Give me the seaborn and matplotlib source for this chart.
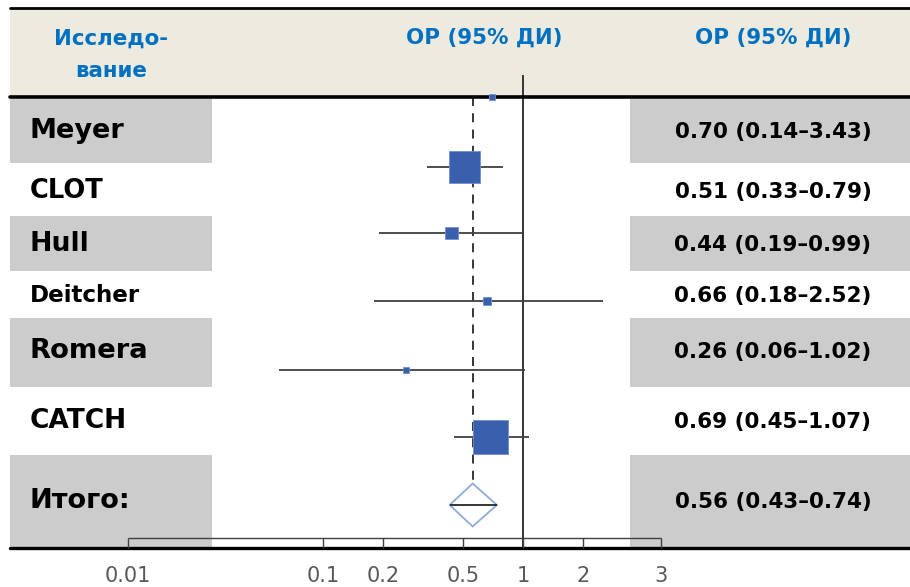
import numpy as np
import pandas as pd
import matplotlib
matplotlib.use("Agg")
import matplotlib.pyplot as plt
import matplotlib.transforms as mtransforms
from matplotlib.patches import Rectangle, Polygon
import seaborn as sns

# ---------------- data ----------------
studies = ["Meyer", "CLOT", "Hull", "Deitcher", "Romera", "CATCH"]
odds_ratio = [0.70, 0.51, 0.44, 0.66, 0.26, 0.69]
ci_low = [0.14, 0.33, 0.19, 0.18, 0.06, 0.45]
ci_high = [3.43, 0.79, 0.99, 2.52, 1.02, 1.07]
weights = [1.4, 40.1, 6.6, 2.5, 1.4, 48.0]

total_label = "Итого:"
total_or = 0.56
total_low = 0.43
total_high = 0.74

header_study = "Исследо-\nвание"
header_plot = "ОР (95% ДИ)"
header_values = "ОР (95% ДИ)"

tick_values = [0.0106, 0.1, 0.2, 0.5, 1, 2, 4.9]
tick_labels = ["0.01", "0.1", "0.2", "0.5", "1", "2", "3"]

# ---------------- layout (pixels) ----------------
W, H = 910, 587
marker_rows = [97, 167, 233, 301, 370, 437]
total_row = 505
text_baselines = [138, 198, 251, 302, 358, 428]
total_baseline = 508
label_sizes = [19.5, 18.5, 19.3, 16.6, 19.7, 19]
bands = [(99, 163), (216, 271), (318, 387), (455, 548)]

sns.set_theme(style="white")
plt.rcParams["font.family"] = ["DejaVu Sans"]

fig = plt.figure(figsize=(W / 100, H / 100), dpi=100)
ax = fig.add_axes([0, 0, 1, 1])
ax.set_xscale("log")
px_per_decade = 200.0
x_one = 523.0
ax.set_xlim(10 ** ((0 - x_one) / px_per_decade), 10 ** ((W - x_one) / px_per_decade))
ax.set_ylim(H, 0)
ax.axis("off")

trans = mtransforms.blended_transform_factory(ax.transAxes, ax.transData)


def prect(x0, y0, x1, y1, **kw):
    ax.add_patch(Rectangle((x0 / W, y0), (x1 - x0) / W, y1 - y0,
                           transform=trans, linewidth=0, **kw))


# header
prect(10, 8, W, 97, facecolor="#EDEAE0", zorder=0)
# grey bands
for (y0, y1) in bands:
    prect(10, y0, 212, y1, facecolor="#CCCCCC", zorder=0)
    prect(630, y0, W, y1, facecolor="#CCCCCC", zorder=0)

# header lines
ax.plot([10 / W, 1], [8, 8], transform=trans, color="black", lw=2, zorder=3)
ax.plot([10 / W, 1], [97, 97], transform=trans, color="black", lw=2.6, zorder=3)
ax.plot([10 / W, 1], [548, 548], transform=trans, color="black", lw=2.4, zorder=3)

# header text
hc = "#0070C0"
ax.text(111 / W, 55, header_study, transform=trans, ha="center", va="center",
        color=hc, fontsize=15.4, fontweight="bold", linespacing=1.8)
ax.text(484 / W, 38, header_plot, transform=trans, ha="center", va="center",
        color=hc, fontsize=15.4, fontweight="bold")
ax.text(773 / W, 38, header_values, transform=trans, ha="center", va="center",
        color=hc, fontsize=15.4, fontweight="bold")

# reference lines
ax.vlines(1, 75, 548, color="#262626", lw=1.3, zorder=2)
ax.vlines(total_or, 97, 483, color="#262626", lw=1.3, linestyles=(0, (5, 4)), zorder=2)

# CI lines
ax.hlines(marker_rows, ci_low, ci_high, color="#404040", lw=1.3, zorder=2)

# boxes
df = pd.DataFrame({"study": studies, "or": odds_ratio, "y": marker_rows, "w": weights})
sizes = 13.2 * np.asarray(weights)
sns.scatterplot(data=df, x="or", y="y", s=sizes, marker="s", color="#3A60AD",
                edgecolor="#6F8FD0", linewidth=0.6, ax=ax, legend=False, zorder=5)
ax.set_xlabel("")
ax.set_ylabel("")

# diamond
dh = 21.5
diamond = Polygon([(total_low, total_row), (total_or, total_row - dh),
                   (total_high, total_row), (total_or, total_row + dh)],
                  closed=True, facecolor="white", edgecolor="#8FAADC", lw=1.3, zorder=4)
ax.add_patch(diamond)
ax.hlines(total_row, total_low, total_high, color="#262626", lw=1.3, zorder=5)

# axis box with ticks
ax.hlines(538, tick_values[0], tick_values[-1], color="#404040", lw=1.0, zorder=3)
ax.vlines(tick_values, 538, 548, color="#404040", lw=1.0, zorder=3)
for tv, tl in zip(tick_values, tick_labels):
    ax.text(tv, 576, tl, ha="center", va="center", color="#595959", fontsize=15)

# study labels and values
for name, o, lo, hi, yb, fs in zip(studies, odds_ratio, ci_low, ci_high,
                                    text_baselines, label_sizes):
    ax.text(30 / W, yb, name, transform=trans, ha="left", va="baseline",
            fontsize=fs, fontweight="bold", color="black")
    ax.text(773 / W, yb, f"{o:.2f} ({lo:.2f}–{hi:.2f})", transform=trans,
            ha="center", va="baseline", fontsize=15.5, fontweight="bold", color="black")
ax.text(30 / W, total_baseline, total_label, transform=trans, ha="left", va="baseline",
        fontsize=19.5, fontweight="bold", color="black")
ax.text(773 / W, total_baseline, f"{total_or:.2f} ({total_low:.2f}–{total_high:.2f})",
        transform=trans, ha="center", va="baseline", fontsize=15.5,
        fontweight="bold", color="black")

fig.savefig("out.png", dpi=100, facecolor="white")
